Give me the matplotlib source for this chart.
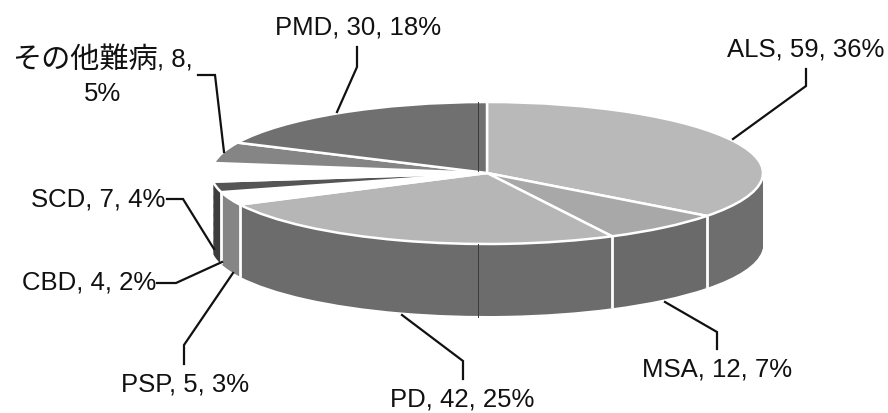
import numpy as np
import matplotlib
matplotlib.use("Agg")
import matplotlib.pyplot as plt

plt.rcParams['font.family'] = ['Liberation Sans', 'Noto Sans CJK JP', 'DejaVu Sans']

categories = ['ALS', 'MSA', 'PD', 'PSP', 'CBD', 'SCD', 'その他難病', 'PMD']
values = [59, 12, 42, 5, 4, 7, 8, 30]
percents = [36, 7, 25, 3, 2, 4, 5, 18]
top_colors = ['#b9b9b9', '#a8a8a8', '#b6b6b6', '#ffffff', '#555555', '#ffffff', '#858585', '#707070']
side_colors = ['#6e6e6e', '#6a6a6a', '#6c6c6c', '#858585', '#3c3c3c', '#ffffff', '#858585', '#707070']

W, H = 888, 414
CX, CY, RX, RY, DEPTH = 487, 174, 276, 71, 72

fig = plt.figure(figsize=(W / 100, H / 100), dpi=100, facecolor='white')
ax = fig.add_axes([0, 0, 1, 1])

n_layers = 80
depth_units = DEPTH / RY
for k in range(n_layers, 0, -1):
    ax.pie(values, colors=side_colors, startangle=90, counterclock=False,
           center=(0, -depth_units * k / n_layers), radius=1,
           wedgeprops=dict(linewidth=0))
ax.pie(values, colors=top_colors, startangle=90, counterclock=False,
       center=(0, 0), radius=1,
       wedgeprops=dict(edgecolor='white', linewidth=1.8))

# white seams on the visible wall, at the slice boundaries
bounds = np.cumsum(values) / np.sum(values) * 2 * np.pi
for b in bounds[:4]:
    x, y = np.sin(b), np.cos(b)
    ax.plot([x, x], [y, y - depth_units], color='white', lw=2, solid_capstyle='butt', zorder=50)

ax.set_aspect('auto')
ax.set_xlim(-CX / RX, (W - CX) / RX)
ax.set_ylim((CY - H) / RY, CY / RY)
ax.axis('off')

# overlay in picture coordinates for labels and leader lines
ov = fig.add_axes([0, 0, 1, 1], facecolor='none')
ov.set_xlim(0, W)
ov.set_ylim(H, 0)
ov.axis('off')

label_pos = {
    'ALS': (806, 49), 'MSA': (717, 370), 'PD': (462, 400), 'PSP': (185, 385),
    'CBD': (89, 283), 'SCD': (98, 200), 'PMD': (358, 27),
}
fs = 18.5
ink = '#111111'
for c, v, p in zip(categories, values, percents):
    if c in label_pos:
        x, y = label_pos[c]
        ov.text(x, y, f'{c}, {v}, {p}%', ha='center', va='center', fontsize=fs, color=ink)
ov.text(85, 60, 'その他難病', ha='center', va='center', fontsize=21, color=ink)
ov.text(157, 60, ', 8,', ha='left', va='center', fontsize=fs, color=ink)
ov.text(103, 94, '5%', ha='center', va='center', fontsize=fs, color=ink)

leaders = [
    [(733, 140), (806, 87), (806, 70)],
    [(665, 303), (717, 333), (717, 350)],
    [(402, 316), (463, 362), (463, 380)],
    [(233, 274), (184, 346), (184, 365)],
    [(222, 263), (176, 284), (157, 284)],
    [(214, 250), (183, 200), (167, 200)],
    [(224, 153), (215, 76), (198, 76)],
    [(337, 113), (357, 68), (357, 48)],
]
for pts in leaders:
    xs, ys = zip(*pts)
    ov.plot(xs, ys, color=ink, lw=1.6, solid_joinstyle='miter')

# faint vertical scan line through the upper and lower parts of the disc
for seg in ([103, 172], [245, 318]):
    ov.plot([478, 478], seg, color='#3a3a3a', lw=0.7)

fig.savefig('out.png', dpi=100)
